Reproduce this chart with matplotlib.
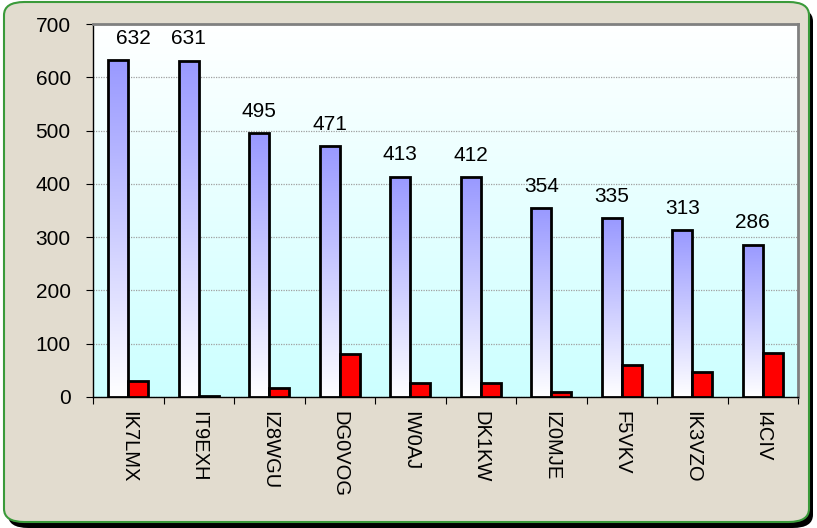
import numpy as np
import matplotlib
matplotlib.use("Agg")
import matplotlib.pyplot as plt
from matplotlib.patches import FancyBboxPatch
from matplotlib.colors import LinearSegmentedColormap

categories = ["IK7LMX", "IT9EXH", "IZ8WGU", "DG0VOG", "IW0AJ", "DK1KW", "IZ0MJE", "F5VKV", "IK3VZO", "I4CIV"]
series_total = [632, 631, 495, 471, 413, 412, 354, 335, 313, 286]
series_red = [30, 2, 17, 81, 26, 26, 10, 60, 46, 82]
yticks = [0, 100, 200, 300, 400, 500, 600, 700]

W, H = 817, 528
fig = plt.figure(figsize=(W / 100, H / 100), dpi=100)
fig.patch.set_facecolor("white")

# background panel with shadow and green rounded border
shadow = FancyBboxPatch((8 / W, 0 / H), (W - 12) / W, (H - 8) / H,
                        boxstyle="round,pad=0,rounding_size=0.025",
                        transform=fig.transFigure, facecolor="black", edgecolor="none", zorder=0)
fig.patches.append(shadow)
panel = FancyBboxPatch((4 / W, 6 / H), (W - 12) / W, (H - 8) / H,
                       boxstyle="round,pad=0,rounding_size=0.025",
                       transform=fig.transFigure, facecolor="#e2dccf", edgecolor="#3a9a3a",
                       linewidth=1.5, zorder=0.5)
fig.patches.append(panel)

ax = fig.add_axes([93 / W, 1 - 397 / H, (798 - 93) / W, (397 - 24) / H])
ax.set_zorder(2)
ax.set_facecolor("none")
ax.set_xlim(-0.5, len(categories) - 0.5)
ax.set_ylim(0, 700)

# plot area gradient background
bg_cmap = LinearSegmentedColormap.from_list("bg", ["#ccffff", "#ffffff"])
grad = np.linspace(0, 1, 256).reshape(-1, 1)
ax.imshow(grad, extent=[-0.5, len(categories) - 0.5, 0, 700], origin="lower",
          cmap=bg_cmap, aspect="auto", zorder=0)

ax.yaxis.grid(True, color="#a0a0a0", linestyle=(0, (1, 1)), linewidth=0.9, zorder=1)
ax.set_axisbelow(True)

x = np.arange(len(categories))
bw = 0.284
bar_cmap = LinearSegmentedColormap.from_list("bb", ["#ffffff", "#9999ff"])
blue = ax.bar(x - bw / 2, series_total, width=bw, facecolor="none", edgecolor="black", linewidth=2, zorder=4)
for rect, v in zip(blue, series_total):
    x0 = rect.get_x()
    im = ax.imshow(grad, extent=[x0, x0 + bw, 0, v], origin="lower", cmap=bar_cmap,
                   aspect="auto", zorder=3)
    im.set_clip_path(rect)
ax.bar(x + bw / 2, series_red, width=bw, color="#ff0000", edgecolor="black", linewidth=2, zorder=4)

for i, (xi, v) in enumerate(zip(x, series_total)):
    dx = 11 if i == 0 else 0
    ax.annotate(str(v), (xi - bw / 2, v), xytext=(dx, 9), textcoords="offset points",
                ha="center", va="bottom", fontsize=15, family="Liberation Sans",
                color="black", zorder=5, annotation_clip=False)

ax.set_xticks(np.arange(len(categories) + 1) - 0.5, minor=False)
ax.set_xticklabels([])
ax.set_xticks(x, minor=True)
ax.set_xticklabels(categories, minor=True, rotation=270, fontsize=14.5, family="Liberation Sans")
ax.tick_params(axis="x", which="major", length=5, color="black", direction="out")
ax.tick_params(axis="x", which="minor", length=0, pad=10)
ax.set_yticks(yticks)
ax.set_yticklabels([str(t) for t in yticks], fontsize=15, family="Liberation Sans")
ax.tick_params(axis="y", length=5, color="black", direction="out", pad=11)

for s in ["top", "right"]:
    ax.spines[s].set_color("#808080")
    ax.spines[s].set_linewidth(2)
for s in ["left", "bottom"]:
    ax.spines[s].set_color("black")
    ax.spines[s].set_linewidth(1)

fig.savefig("out.png", dpi=100)
